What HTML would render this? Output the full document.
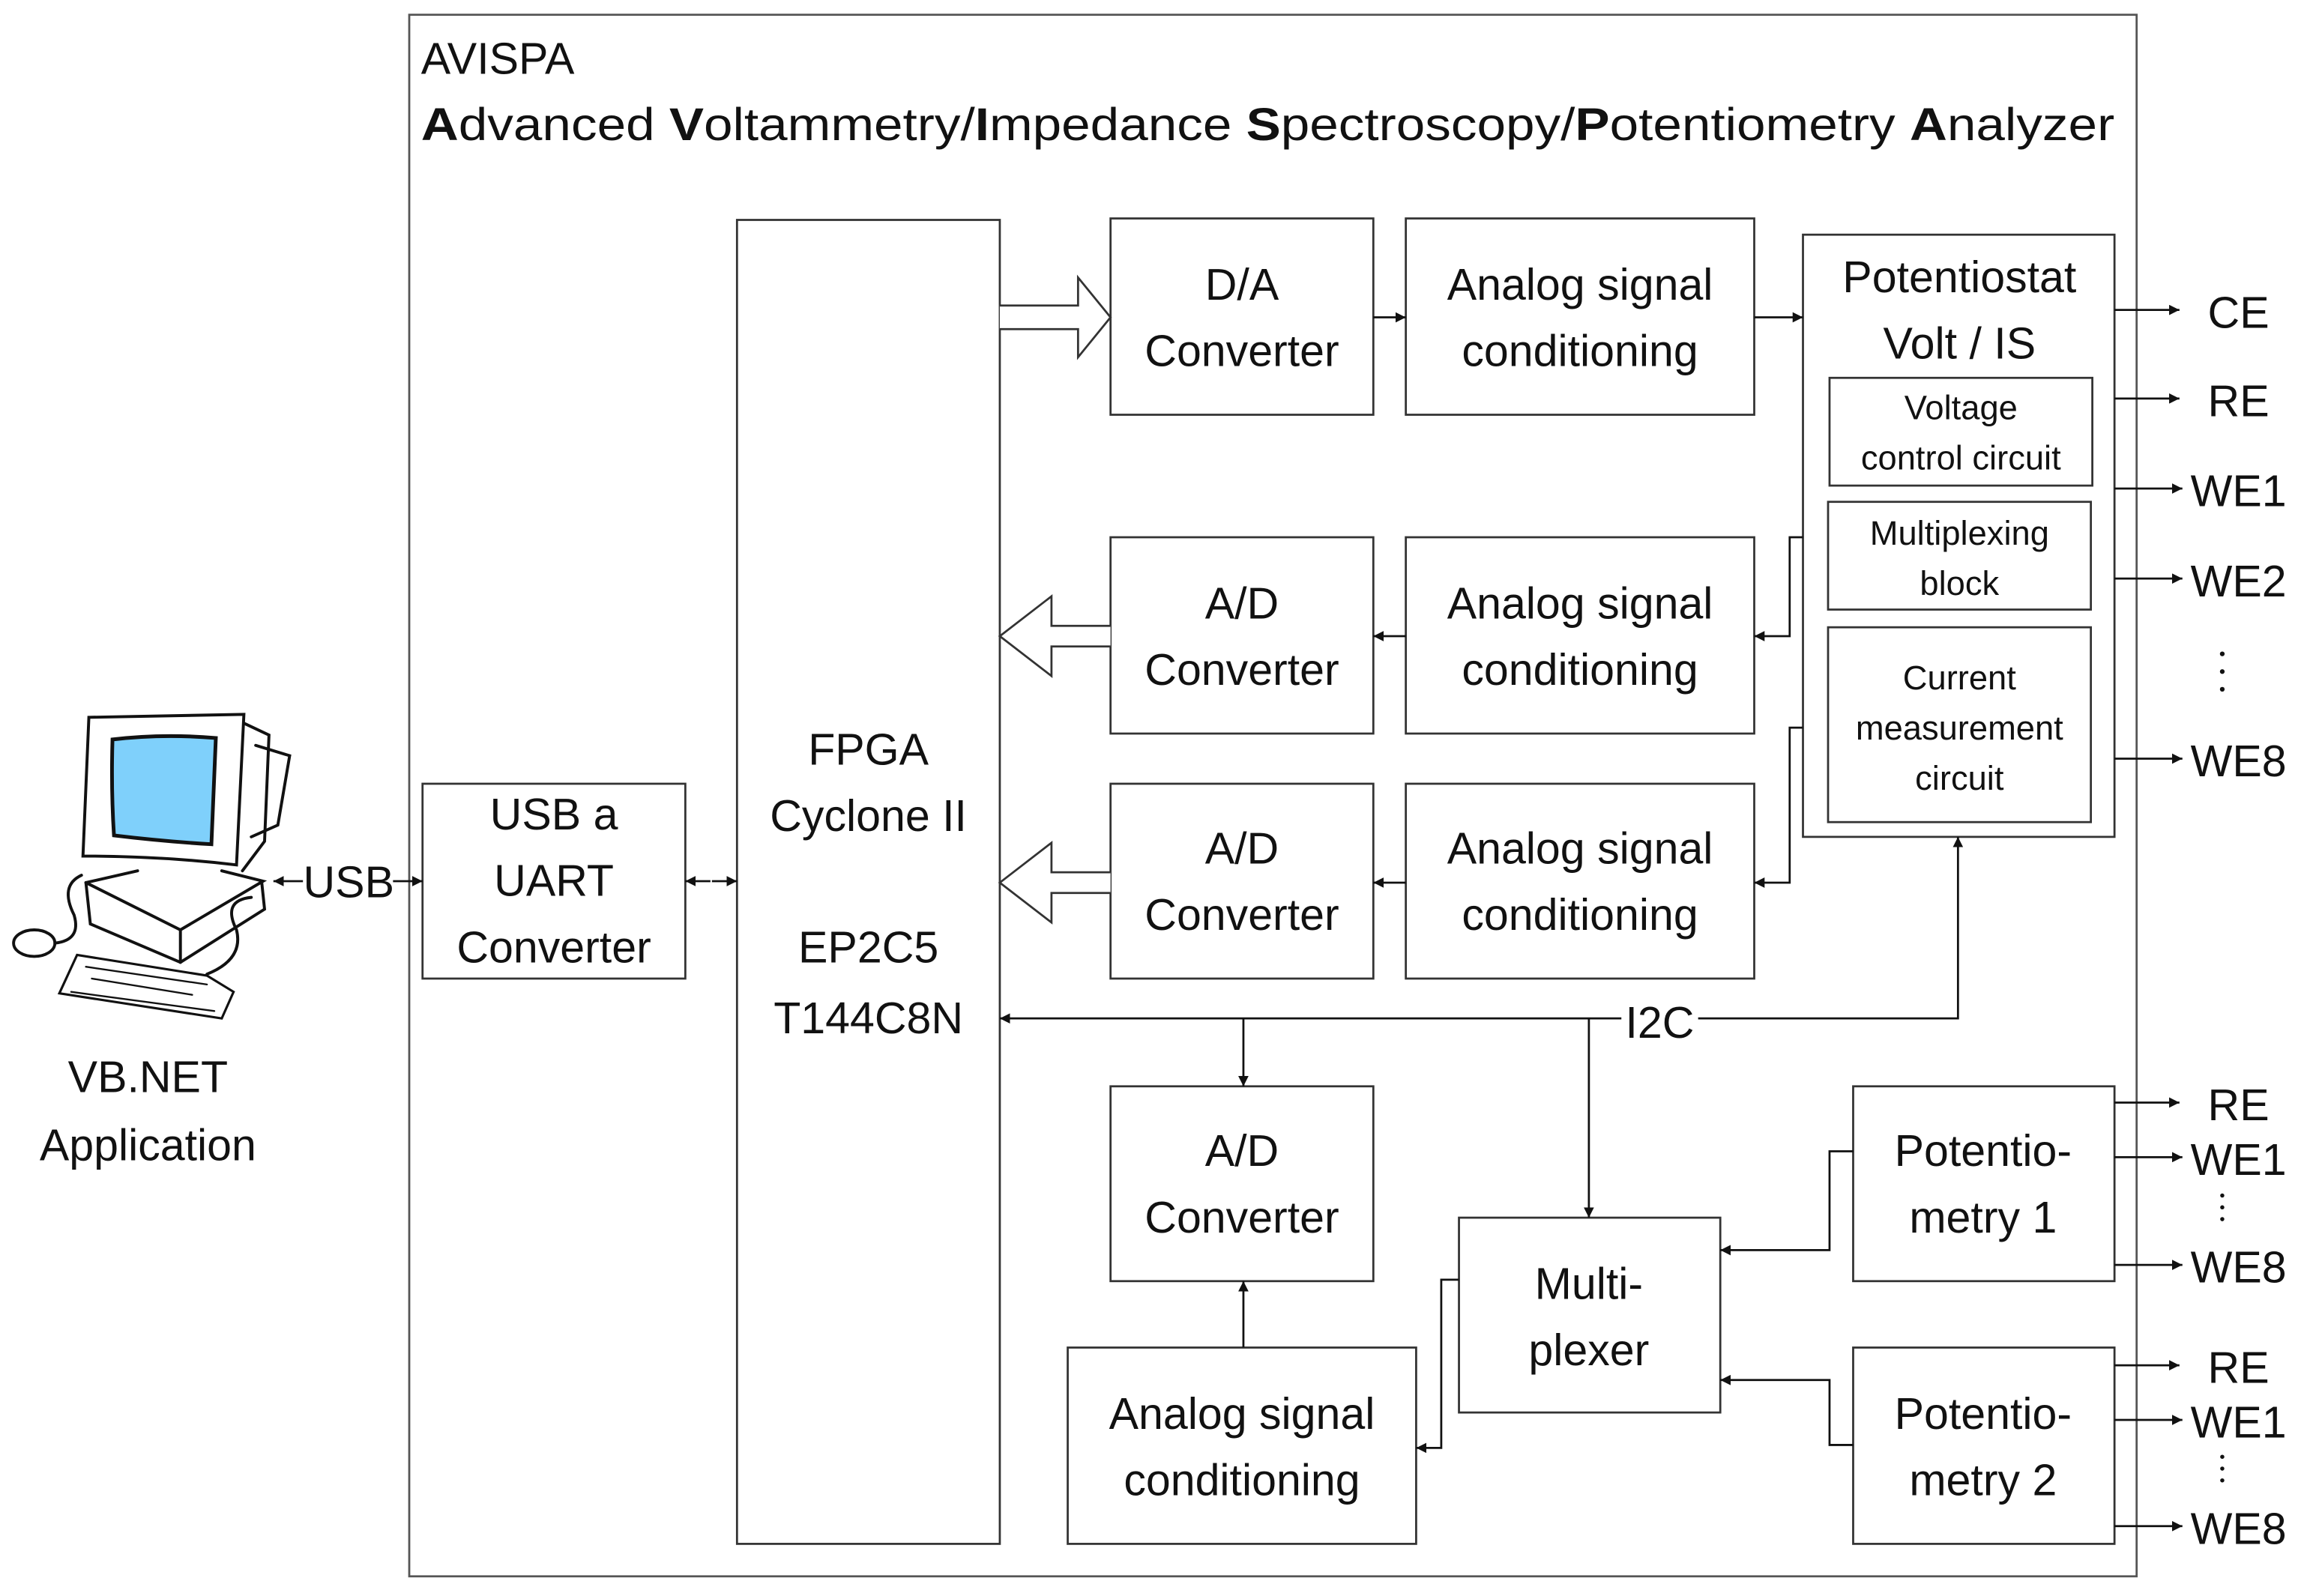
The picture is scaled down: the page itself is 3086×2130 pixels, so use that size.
<!DOCTYPE html>
<html><head><meta charset="utf-8"><style>
html,body{margin:0;padding:0;background:#fff}
svg{display:block}
text{font-family:"Liberation Sans",sans-serif;fill:#111}
</style></head><body>
<svg width="3086" height="2130" viewBox="0 0 1560 1077" xmlns="http://www.w3.org/2000/svg">
<defs>
<marker id="a" viewBox="0 0 10 10" refX="10" refY="5" markerWidth="7" markerHeight="7" markerUnits="userSpaceOnUse" orient="auto"><path d="M0,0L10,5L0,10z" fill="#111"/></marker>
</defs>
<rect width="1560" height="1077" fill="#fff"/>
<g transform="scale(0.996)">
<g fill="none" stroke="#333" stroke-width="1.4">
<rect x="277" y="10" width="1170" height="1058" stroke="#555"/>
<rect x="499" y="149" width="178" height="897"/>
<rect x="752" y="148" width="178" height="133"/>
<rect x="952" y="148" width="236" height="133"/>
<rect x="1221" y="159" width="211" height="408"/>
<rect x="1239" y="256" width="178" height="73"/>
<rect x="1238" y="340" width="178" height="73"/>
<rect x="1238" y="425" width="178" height="132"/>
<rect x="752" y="364" width="178" height="133"/>
<rect x="952" y="364" width="236" height="133"/>
<rect x="752" y="531" width="178" height="132"/>
<rect x="952" y="531" width="236" height="132"/>
<rect x="286" y="531" width="178" height="132"/>
<rect x="752" y="736" width="178" height="132"/>
<rect x="723" y="913" width="236" height="133"/>
<rect x="988" y="825" width="177" height="132"/>
<rect x="1255" y="736" width="177" height="132"/>
<rect x="1255" y="913" width="177" height="133"/>
<path d="M677,207H730V188L752,215L730,242V223H677" fill="#fff"/>
<path d="M752,424H712V404L677,431L712,458V438H752" fill="#fff"/>
<path d="M752,591H712V571L677,598L712,625V605H752" fill="#fff"/>
</g>
<g fill="none" stroke="#111" stroke-width="1.4">
<line x1="930" y1="215" x2="952" y2="215" marker-end="url(#a)"/>
<line x1="1188" y1="215" x2="1221" y2="215" marker-end="url(#a)"/>
<line x1="952" y1="431" x2="930" y2="431" marker-end="url(#a)"/>
<line x1="952" y1="598" x2="930" y2="598" marker-end="url(#a)"/>
<path d="M1221,364H1212V431H1188" marker-end="url(#a)"/>
<path d="M1221,493H1212V598H1188" marker-end="url(#a)"/>
<line x1="1432" y1="210" x2="1476" y2="210" marker-end="url(#a)"/>
<line x1="1432" y1="270" x2="1476" y2="270" marker-end="url(#a)"/>
<line x1="1432" y1="331" x2="1478" y2="331" marker-end="url(#a)"/>
<line x1="1432" y1="392" x2="1478" y2="392" marker-end="url(#a)"/>
<line x1="1432" y1="514" x2="1478" y2="514" marker-end="url(#a)"/>
<line x1="205" y1="597" x2="185" y2="597" marker-end="url(#a)"/>
<line x1="266" y1="597" x2="286" y2="597" marker-end="url(#a)"/>
<line x1="481" y1="597" x2="464" y2="597" marker-end="url(#a)"/>
<line x1="482" y1="597" x2="499" y2="597" marker-end="url(#a)"/>
<line x1="1098" y1="690" x2="677" y2="690" marker-end="url(#a)"/>
<path d="M1150,690H1326V567" marker-end="url(#a)"/>
<line x1="842" y1="690" x2="842" y2="736" marker-end="url(#a)"/>
<line x1="1076" y1="690" x2="1076" y2="825" marker-end="url(#a)"/>
<line x1="842" y1="913" x2="842" y2="868" marker-end="url(#a)"/>
<path d="M1255,780H1239V847H1165" marker-end="url(#a)"/>
<path d="M1255,979H1239V935H1165" marker-end="url(#a)"/>
<path d="M988,867H976V981H959" marker-end="url(#a)"/>
<line x1="1432" y1="747" x2="1476" y2="747" marker-end="url(#a)"/>
<line x1="1432" y1="784" x2="1478" y2="784" marker-end="url(#a)"/>
<line x1="1432" y1="857" x2="1478" y2="857" marker-end="url(#a)"/>
<line x1="1432" y1="925" x2="1476" y2="925" marker-end="url(#a)"/>
<line x1="1432" y1="962" x2="1478" y2="962" marker-end="url(#a)"/>
<line x1="1432" y1="1034" x2="1478" y2="1034" marker-end="url(#a)"/>
</g>
<g fill="#111">
<circle cx="1505" cy="443" r="1.6"/><circle cx="1505" cy="455" r="1.6"/><circle cx="1505" cy="467" r="1.6"/>
<circle cx="1505" cy="810" r="1.4"/><circle cx="1505" cy="818" r="1.4"/><circle cx="1505" cy="826" r="1.4"/>
<circle cx="1505" cy="987" r="1.4"/><circle cx="1505" cy="995" r="1.4"/><circle cx="1505" cy="1003" r="1.4"/>
</g>
<g fill="none" stroke="#111" stroke-width="2" stroke-linecap="round">
<path d="M60,486L165,484L160,586Q110,580 56,580Z"/>
<path d="M76,501Q75,535 77,566Q110,570 143,572L146,500Q110,497 76,501Z" fill="#7fd0fb" stroke-width="2.5"/>
<path d="M165,490L182,498L179,570L164,590"/>
<path d="M173,505L196,512L188,559L170,567"/>
<path d="M58,598L93,590M150,590L178,597L122,630L58,598"/>
<path d="M58,598L61,626L122,652L179,616L177,597"/>
<path d="M122,630L122,652"/>
<path d="M52,647L140,661L158,672L150,690L40,673Z" stroke-width="1.6"/>
<path d="M58,655L140,667M62,663L130,674M48,672L145,685" stroke-width="1.2"/>
<ellipse cx="23" cy="639" rx="14" ry="9"/>
<path d="M37,639Q55,637 50,620Q40,600 55,593"/>
<path d="M140,660Q165,650 160,630Q150,610 170,608"/>
</g>
<g font-size="30" text-anchor="middle">
<text x="588" y="518">FPGA</text>
<text x="588" y="563">Cyclone II</text>
<text x="588" y="652">EP2C5</text>
<text x="588" y="700">T144C8N</text>
<text x="841" y="203">D/A</text><text x="841" y="248">Converter</text>
<text x="1070" y="203">Analog signal</text><text x="1070" y="248">conditioning</text>
<text x="1327" y="198">Potentiostat</text><text x="1327" y="243">Volt / IS</text>
<text x="841" y="419">A/D</text><text x="841" y="464">Converter</text>
<text x="1070" y="419">Analog signal</text><text x="1070" y="464">conditioning</text>
<text x="841" y="585">A/D</text><text x="841" y="630">Converter</text>
<text x="1070" y="585">Analog signal</text><text x="1070" y="630">conditioning</text>
<text x="375" y="562">USB a</text><text x="375" y="607">UART</text><text x="375" y="652">Converter</text>
<text x="841" y="790">A/D</text><text x="841" y="835">Converter</text>
<text x="841" y="968">Analog signal</text><text x="841" y="1013">conditioning</text>
<text x="1076" y="880">Multi-</text><text x="1076" y="925">plexer</text>
<text x="1343" y="790">Potentio-</text><text x="1343" y="835">metry 1</text>
<text x="1343" y="968">Potentio-</text><text x="1343" y="1013">metry 2</text>
<text x="100" y="740">VB.NET</text><text x="100" y="786">Application</text>
<text x="236" y="608">USB</text>
<text x="1124" y="703">I2C</text>
<text x="1516" y="222">CE</text>
<text x="1516" y="282">RE</text>
<text x="1516" y="343">WE1</text>
<text x="1516" y="404">WE2</text>
<text x="1516" y="526">WE8</text>
<text x="1516" y="759">RE</text>
<text x="1516" y="796">WE1</text>
<text x="1516" y="869">WE8</text>
<text x="1516" y="937">RE</text>
<text x="1516" y="974">WE1</text>
<text x="1516" y="1046">WE8</text>
</g>
<g font-size="23" text-anchor="middle">
<text x="1328" y="284">Voltage</text><text x="1328" y="318">control circuit</text>
<text x="1327" y="369">Multiplexing</text><text x="1327" y="403">block</text>
<text x="1327" y="467">Current</text><text x="1327" y="501">measurement</text><text x="1327" y="535">circuit</text>
</g>
<text x="285" y="50" font-size="30">AVISPA</text>
<text x="285" y="95" font-size="31" textLength="1147" lengthAdjust="spacingAndGlyphs"><tspan font-weight="bold">A</tspan>dvanced <tspan font-weight="bold">V</tspan>oltammetry/<tspan font-weight="bold">I</tspan>mpedance <tspan font-weight="bold">S</tspan>pectroscopy/<tspan font-weight="bold">P</tspan>otentiometry  <tspan font-weight="bold">A</tspan>nalyzer</text>
</g>
</svg>
</body></html>
